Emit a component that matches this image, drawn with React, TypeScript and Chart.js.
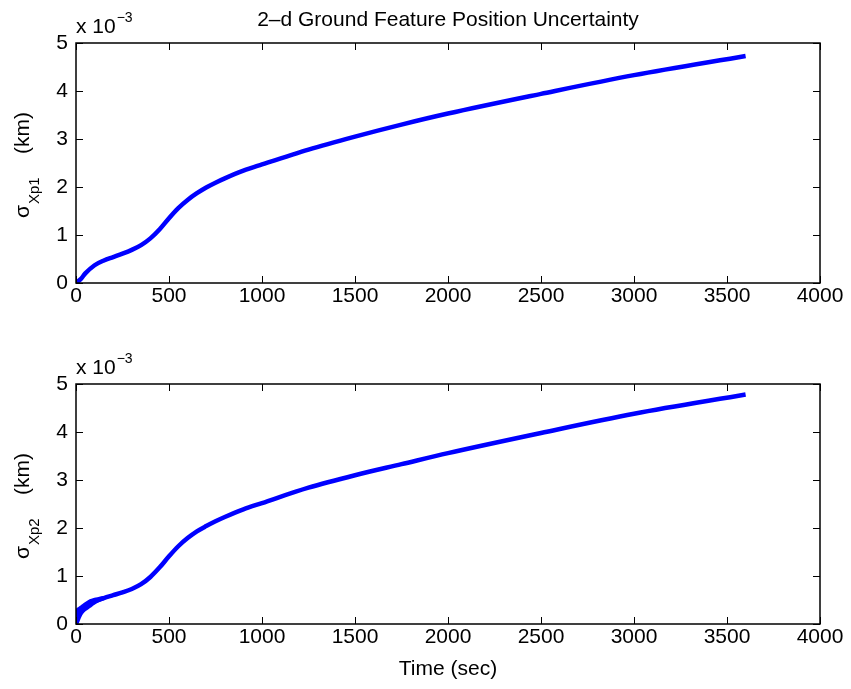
import React, { useEffect, useRef } from "react";
import { Chart, registerables } from "chart.js";
Chart.register(...registerables);

// ---- data (sigma values in units of 10^-3 km) ----
const timeTop = [0, 25, 50, 100, 150, 200, 250, 300, 350, 400, 450, 500, 550, 600, 650, 700, 750, 800, 900, 1000, 1250, 1500, 1750, 2000, 2500, 3000, 3600];
const sigmaXp1 = [0, 0.08, 0.2, 0.37, 0.47, 0.54, 0.61, 0.69, 0.79, 0.93, 1.12, 1.35, 1.56, 1.73, 1.87, 1.99, 2.09, 2.18, 2.34, 2.47, 2.78, 3.05, 3.3, 3.53, 3.94, 4.33, 4.73];

const timeBottom = [0, 25, 50, 100, 150, 200, 250, 300, 350, 400, 450, 500, 550, 600, 650, 700, 750, 800, 900, 1000, 1250, 1500, 1750, 2000, 2500, 3000, 3600];
const sigmaXp2 = [0, 0.22, 0.34, 0.47, 0.54, 0.6, 0.66, 0.73, 0.83, 0.98, 1.18, 1.41, 1.62, 1.79, 1.93, 2.04, 2.14, 2.23, 2.39, 2.52, 2.84, 3.1, 3.33, 3.56, 3.98, 4.38, 4.78];

// early oscillation envelope of the second estimate
const bandTime = [0, 10, 25, 50, 75, 100, 125, 150];
const bandUpper = [0.3, 0.33, 0.37, 0.44, 0.5, 0.53, 0.55, 0.57];
const bandLower = [0, 0.08, 0.18, 0.28, 0.35, 0.42, 0.47, 0.51];

const xTickValues = [0, 500, 1000, 1500, 2000, 2500, 3000, 3500, 4000];
const yTickValues = [0, 1, 2, 3, 4, 5];

const TITLE = "2–d Ground Feature Position Uncertainty";
const X_LABEL = "Time (sec)";
const MULT_BASE = "x 10";
const MULT_EXP = "−3";
const SUB_TOP = "Xp1";
const SUB_BOTTOM = "Xp2";

const FONT = "'Liberation Sans', Arial, Helvetica, sans-serif";
const BLUE = "#0000ff";

function pts(xs: number[], ys: number[]) {
  return xs.map((x, i) => ({ x, y: ys[i] }));
}

function decor(sub: string) {
  return {
    id: "decor_" + sub,
    afterDatasetsDraw(chart: any) {
      const { ctx, chartArea: a, scales } = chart;
      const xs = scales.x;
      const ys = scales.y;
      ctx.save();
      ctx.strokeStyle = "#000";
      ctx.lineWidth = 1.5;
      ctx.strokeRect(a.left, a.top, a.right - a.left, a.bottom - a.top);
      const tl = 7;
      ctx.beginPath();
      xs.ticks.forEach((t: any) => {
        const px = Math.round(xs.getPixelForValue(t.value)) + 0.5;
        ctx.moveTo(px, a.bottom);
        ctx.lineTo(px, a.bottom - tl);
        ctx.moveTo(px, a.top);
        ctx.lineTo(px, a.top + tl);
      });
      ys.ticks.forEach((t: any) => {
        const py = Math.round(ys.getPixelForValue(t.value)) + 0.5;
        ctx.moveTo(a.left, py);
        ctx.lineTo(a.left + tl, py);
        ctx.moveTo(a.right, py);
        ctx.lineTo(a.right - tl, py);
      });
      ctx.lineWidth = 1;
      ctx.stroke();

      // multiplier
      ctx.fillStyle = "#000";
      ctx.textAlign = "left";
      ctx.textBaseline = "alphabetic";
      ctx.font = `21px ${FONT}`;
      ctx.fillText(MULT_BASE, a.left, a.top - 10);
      const w = ctx.measureText(MULT_BASE).width;
      ctx.font = `14px ${FONT}`;
      ctx.fillText(MULT_EXP, a.left + w + 1, a.top - 21);

      // y label
      const cy = (a.top + a.bottom) / 2;
      ctx.translate(29, cy);
      ctx.rotate(-Math.PI / 2);
      ctx.font = `21px ${FONT}`;
      ctx.fillText("σ", -55, 0);
      const ws = ctx.measureText("σ").width;
      ctx.font = `15px ${FONT}`;
      ctx.fillText(sub, -55 + ws + 1, 10);
      ctx.font = `21px ${FONT}`;
      ctx.textAlign = "right";
      ctx.fillText("(km)", 51, 0);
      ctx.restore();
    },
  };
}

function baseOptions(xHeight: number, padTop: number, withXTitle: boolean, withTitle: boolean): any {
  return {
    responsive: false,
    animation: false,
    devicePixelRatio: 1,
    layout: { padding: { top: padTop, right: 31, left: 0, bottom: 0 } },
    plugins: {
      legend: { display: false },
      tooltip: { enabled: false },
      title: withTitle
        ? {
            display: true,
            text: TITLE,
            fullSize: false,
            color: "#000",
            font: { family: FONT, size: 21, weight: "normal" },
            padding: { top: 7.4, bottom: 10.4 },
          }
        : { display: false },
    },
    scales: {
      x: {
        type: "linear",
        min: 0,
        max: 4000,
        afterBuildTicks: (s: any) => {
          s.ticks = xTickValues.map((v) => ({ value: v }));
        },
        afterFit: (s: any) => {
          s.height = xHeight;
        },
        grid: { display: false, drawTicks: false },
        border: { display: false },
        ticks: {
          autoSkip: false,
          maxRotation: 0,
          padding: 1,
          color: "#000",
          font: { family: FONT, size: 21 },
          callback: (v: any) => String(v),
        },
        title: withXTitle
          ? {
              display: true,
              text: X_LABEL,
              color: "#000",
              font: { family: FONT, size: 21 },
              padding: { top: 0, bottom: 7.4 },
            }
          : { display: false },
      },
      y: {
        type: "linear",
        min: 0,
        max: 5,
        afterBuildTicks: (s: any) => {
          s.ticks = yTickValues.map((v) => ({ value: v }));
        },
        afterFit: (s: any) => {
          s.width = 76;
        },
        grid: { display: false, drawTicks: false },
        border: { display: false },
        ticks: {
          padding: 8,
          color: "#000",
          font: { family: FONT, size: 21 },
          callback: (v: any) => String(v),
        },
      },
    },
  };
}

function lineDs(data: any[], width: number, extra: any = {}) {
  return {
    data,
    borderColor: BLUE,
    backgroundColor: BLUE,
    borderWidth: width,
    pointRadius: 0,
    cubicInterpolationMode: "monotone",
    fill: false,
    ...extra,
  };
}

export default function App() {
  const topRef = useRef<HTMLCanvasElement | null>(null);
  const botRef = useRef<HTMLCanvasElement | null>(null);

  useEffect(() => {
    const c1 = new Chart(topRef.current as HTMLCanvasElement, {
      type: "line",
      data: { datasets: [lineDs(pts(timeTop, sigmaXp1), 4.5)] as any },
      options: baseOptions(52, 0, false, true),
      plugins: [decor(SUB_TOP)],
    } as any);
    const c2 = new Chart(botRef.current as HTMLCanvasElement, {
      type: "line",
      data: {
        datasets: [
          lineDs(pts(timeBottom, sigmaXp2), 4.5),
          lineDs(pts(bandTime, bandUpper), 1.5, { fill: "+1" }),
          lineDs(pts(bandTime, bandLower), 1.5),
        ] as any,
      },
      options: baseOptions(65, 49, true, false),
      plugins: [decor(SUB_BOTTOM)],
    } as any);
    return () => {
      c1.destroy();
      c2.destroy();
    };
  }, []);

  return (
    <div style={{ position: "fixed", left: 0, top: 0, width: 851, height: 689, background: "#fff" }}>
      <canvas ref={topRef} width={851} height={335} style={{ position: "absolute", left: 0, top: 0, width: 851, height: 335 }} />
      <canvas ref={botRef} width={851} height={354} style={{ position: "absolute", left: 0, top: 335, width: 851, height: 354 }} />
    </div>
  );
}
